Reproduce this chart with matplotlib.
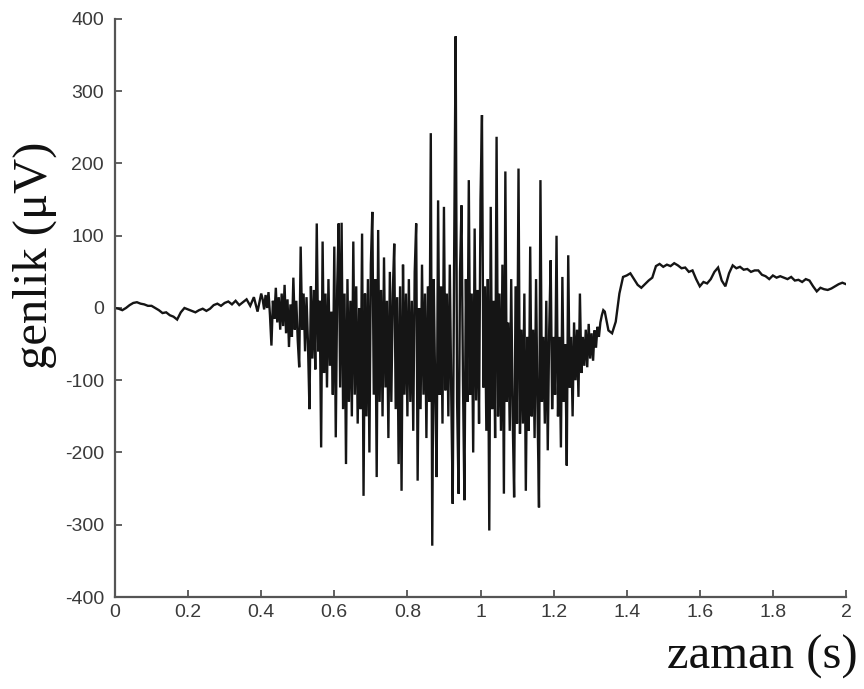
import numpy as np
import matplotlib
matplotlib.use("Agg")
import matplotlib.pyplot as plt

plt.rcParams["axes.unicode_minus"] = False

# ---- data (µV) ----
# quiet start, 0.00 .. 0.40 s, step 0.01 s
start_vals = [0, -1, -3, 0, 4, 7, 8, 6, 5, 3,
              3, 0, -3, -7, -6, -10, -12, -16, -6, 0,
              -2, -4, -6, -3, -1, -4, -1, 4, 6, 3,
              7, 9, 5, 10, 4, 8, 12, 3, 15, -5,
              20]
start_step = 0.01

# active burst, 0.404 .. 1.336 s, step 0.004 s
active_vals = [
    # 0.404 - 0.500
    12, -2, 18, 0, 22, -10, -52, 10, -15, 28, -20, 15, -30, 20, -25, 32, -35, 12, -54, 5, -40, 42, -30, 10, -45,
    # 0.504 - 0.600
    -82, 85, -30, 20, -60, 15, -50, -140, 30, -70, 25, -85, 117, -60, 10, -193, 92, -90, 20, -110, 40, -80, -5, -120, 85,
    # 0.604 - 0.700
    -179, 30, 117, -110, 118, -140, 20, -216, 40, -130, 10, -150, 92, -120, 30, -160, 0, -140, 103, -260, 20, -150, 40, -200, 60,
    # 0.704 - 0.800
    133, -120, 40, -234, 108, -130, 25, -150, 70, -110, 10, -180, 50, -130, 20, 89, -140, 15, -216, 30, -253, 60, -120, 20, -150,
    # 0.804 - 0.900
    40, -130, 10, -170, 50, 117, -239, 0, -140, 60, -120, 20, -180, 30, -130, 242, -329, 40, -110, -234, 149, -120, 30, -160, 140,
    # 0.904 - 1.000
    -114, 20, -150, 60, -120, -271, 80, 376, -130, -257, 50, 142, -100, -266, 40, -130, 177, -120, 20, -200, 110, -128, 25, -160, 150,
    # 1.004 - 1.100
    267, -110, 30, -170, 40, -308, 140, -140, 10, -180, 237, -150, 20, -170, 60, -257, 189, -130, -20, -170, 40, -150, -262, 30, -160,
    # 1.104 - 1.200
    193, -174, -30, -160, 20, -253, -40, -170, 85, -150, -30, -180, 40, -140, -276, 177, -130, -40, -160, 10, -197, -30, 66, -140, -40,
    # 1.204 - 1.336
    -120, 100, -150, -40, -193, 43, -130, -50, -218, 73, -110, -40, -150, -20, -100, -30, -123, 20, -90, -40, -80, -30, -82, -22, -70,
    -35, -73, -31, -55, -26, -40, -20, -10, -3,
]
active_t0 = 0.40
active_step = 0.004

# quiet end, 1.34 .. 2.00 s, step 0.01 s
end_vals = [-5, -31, -35, -19, 20, 43, 45, 48, 40, 32,
            28, 33, 38, 42, 58, 61, 57, 60, 58, 62,
            59, 55, 56, 50, 52, 40, 30, 36, 34, 40,
            50, 56, 38, 30, 48, 59, 55, 57, 53, 54,
            50, 52, 52, 46, 44, 40, 45, 42, 44, 42,
            40, 43, 38, 39, 36, 40, 38, 30, 23, 28,
            26, 25, 27, 30, 33, 35, 33]
end_t0 = 1.34
end_step = 0.01

x_ticks = [0, 0.2, 0.4, 0.6, 0.8, 1, 1.2, 1.4, 1.6, 1.8, 2]
x_ticklabels = ["0", "0.2", "0.4", "0.6", "0.8", "1", "1.2", "1.4", "1.6", "1.8", "2"]
y_ticks = [-400, -300, -200, -100, 0, 100, 200, 300, 400]
xlabel = "zaman (s)"
ylabel = "genlik (μV)"

# ---- sample times ----
t_start = np.arange(len(start_vals)) * start_step
t_active = active_t0 + active_step * (1 + np.arange(len(active_vals)))
t_end = end_t0 + end_step * np.arange(len(end_vals))
t = np.concatenate([t_start, t_active, t_end])
v = np.concatenate([start_vals, active_vals, end_vals])

# ---- figure ----
fig = plt.figure(figsize=(8.64, 6.89), dpi=100)
ax = fig.add_axes([115/864, 1-597/689, (846-115)/864, (597-19)/689])

ax.plot(t, v, color="#151515", lw=1.7, solid_joinstyle="miter")

ax.set_xlim(0, 2)
ax.set_ylim(-400, 400)
ax.set_xticks(x_ticks)
ax.set_xticklabels(x_ticklabels)
ax.set_yticks(y_ticks)

for s in ["top", "right"]:
    ax.spines[s].set_visible(False)
for s in ["left", "bottom"]:
    ax.spines[s].set_color("#555555")
    ax.spines[s].set_linewidth(1.6)

ax.tick_params(direction="in", length=5, width=1.3, color="#555555",
               labelcolor="#3a3a3a", labelsize=14)
ax.tick_params(axis="y", pad=8)
ax.tick_params(axis="x", pad=5)
for lab in ax.get_xticklabels() + ax.get_yticklabels():
    lab.set_family(["Liberation Sans", "DejaVu Sans"])

fig.text(35/864, 1-255/689, ylabel, rotation=90, ha="center", va="center",
         fontsize=35, family=["Liberation Serif", "DejaVu Serif"], color="#111111")
fig.text(858/864, 1-657/689, xlabel, ha="right", va="center",
         fontsize=35, family=["Liberation Serif", "DejaVu Serif"], color="#111111")

fig.savefig("out.png", dpi=100, facecolor="white")
